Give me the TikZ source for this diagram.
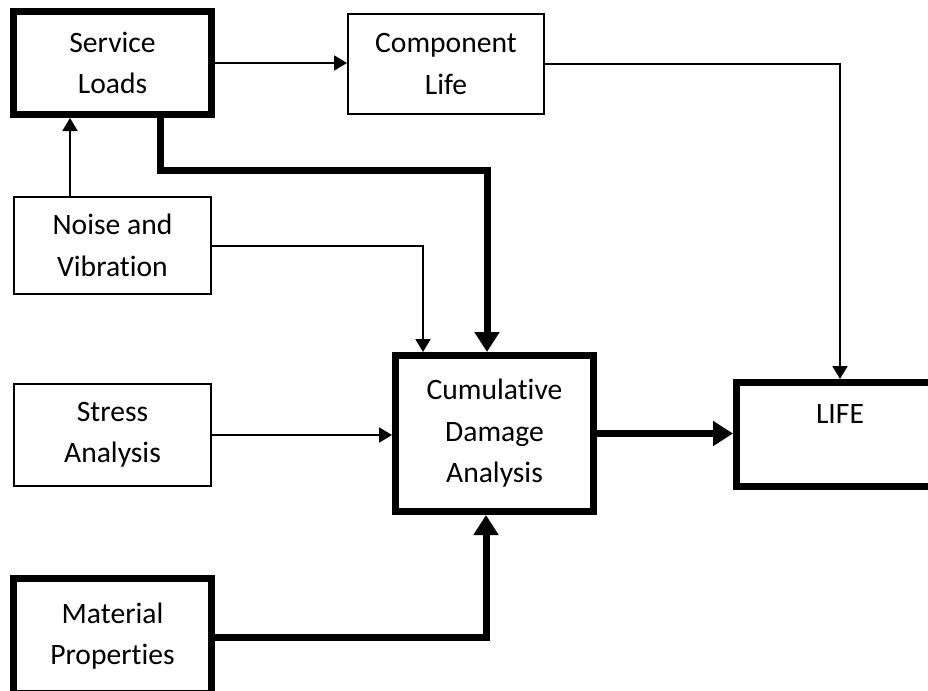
\documentclass[tikz,border=0pt]{standalone}
\usepackage{fontspec}
\setmainfont{Carlito}[Ligatures=NoCommon]
\usetikzlibrary{positioning}
\usetikzlibrary{arrows.meta}
\tikzstyle{box}=[draw,line width=1pt,align=center,inner sep=0pt,font=\fontsize{14.8}{20.75}\selectfont]
\tikzstyle{heavybox}=[box,line width=3.5pt]
\tikzstyle{edge} = [draw,line width=1pt,-{Triangle[length=6.5pt,width=7.5pt]}]
\tikzstyle{heavyedge} = [draw,line width=3.5pt,-{Triangle[length=10pt,width=12pt]}]

\begin{document}
\begin{tikzpicture}[x=0.5pt,y=-0.5pt]
    \useasboundingbox (0,0) rectangle (928,691);

    \foreach \pos/\name/\w/\h/\txt in {{(446,64)/cl/98pt/50pt/Component\\Life}, {(112.5,245.5)/nv/98.5pt/48.5pt/Noise and\\Vibration}, {(112.5,435)/sa/98.5pt/51pt/Stress\\Analysis}}
        \node[box,minimum width=\w,minimum height=\h] (\name) at \pos {\txt};

    \foreach \pos/\name/\w/\h/\txt in {{(112.5,63)/sl/99pt/51.5pt/Service\\Loads}, {(494.5,433.5)/cda/99pt/78pt/Cumulative\\Damage\\Analysis}, {(840,434.5)/life/103.5pt/52pt/LIFE\\~}, {(112.5,636)/mp/99pt/57.5pt/Material\\Properties}}
        \node[heavybox,minimum width=\w,minimum height=\h] (\name) at \pos {\txt};

    % thin connectors
    \path[edge] (sl.east) -- (sl.east -| cl.west);
    \path[edge] ([xshift=-21.25pt]nv.north) -- ([xshift=-21.25pt]nv.north |- sl.south);
    \path[edge] (nv.east) -| ([xshift=-35.75pt]cda.north);
    \path[edge] (sa.east) -- (sa.east -| cda.west);
    \path[edge] (cl.east) -| (life.north);

    % heavy connectors
    \path[heavyedge] ([xshift=23.75pt]sl.south) -- ++(0,52.5) -| ([xshift=-3.75pt]cda.north);
    \path[heavyedge] (cda.east) -- (cda.east -| life.west);
    \path[heavyedge] ([yshift=-0.5pt]mp.east) -| ([xshift=-4.25pt]cda.south);

\end{tikzpicture}
\end{document}
